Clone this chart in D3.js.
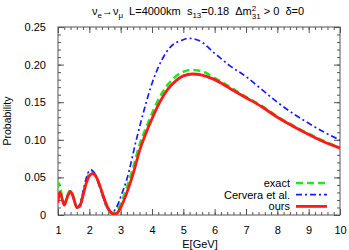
<!DOCTYPE html>
<html>
<head>
<meta charset="utf-8">
<script src="https://cdn.jsdelivr.net/npm/d3@7"></script>
<style>
  body { margin: 0; background: #fff; }
  svg { font-family: "Liberation Sans", Arial, sans-serif; }
</style>
</head>
<body>
<div id="chart"></div>
<script>
// data (E in GeV, probability)
var exactE = [1.0, 1.03, 1.1, 1.2, 1.3, 1.4, 1.5, 1.6, 1.7, 1.8, 1.9, 2.0, 2.1, 2.2, 2.3, 2.4, 2.5, 2.6, 2.7, 2.75, 2.9, 3.0, 3.2, 3.4, 3.6, 3.8, 4.0, 4.25, 4.5, 4.75, 5.0, 5.25, 5.6, 6.0, 6.5, 7.0, 7.5, 8.0, 8.5, 9.0, 9.5, 10];
var exactP = [0.036, 0.042, 0.030, 0.015, 0.026, 0.033, 0.024, 0.010, 0.013, 0.028, 0.045, 0.055, 0.057, 0.053, 0.043, 0.030, 0.017, 0.007, 0.003, 0.003, 0.008, 0.015, 0.037, 0.063, 0.093, 0.115, 0.135, 0.157, 0.173, 0.184, 0.1905, 0.193, 0.191, 0.182, 0.170, 0.157, 0.145, 0.131, 0.119, 0.108, 0.098, 0.0895];

var cerveraE = [1.0, 1.05, 1.1, 1.2, 1.3, 1.4, 1.5, 1.6, 1.7, 1.8, 1.9, 2.0, 2.05, 2.1, 2.2, 2.3, 2.4, 2.5, 2.6, 2.7, 2.8, 2.9, 3.0, 3.2, 3.5, 3.75, 4.0, 4.3, 4.6, 5.0, 5.15, 5.5, 6.0, 6.5, 7.0, 7.5, 8.0, 8.5, 9.0, 9.5, 10];
var cerveraP = [0.020, 0.031, 0.027, 0.013, 0.025, 0.032, 0.021, 0.010, 0.015, 0.031, 0.049, 0.059, 0.060, 0.059, 0.053, 0.041, 0.028, 0.016, 0.007, 0.004, 0.006, 0.013, 0.024, 0.048, 0.100, 0.140, 0.175, 0.205, 0.224, 0.233, 0.235, 0.232, 0.215, 0.198, 0.184, 0.167, 0.150, 0.135, 0.122, 0.110, 0.0997];

var oursE = [1.0, 1.05, 1.1, 1.2, 1.3, 1.4, 1.5, 1.6, 1.7, 1.8, 1.9, 2.0, 2.1, 2.2, 2.3, 2.4, 2.5, 2.6, 2.7, 2.8, 2.9, 3.0, 3.2, 3.4, 3.6, 3.8, 4.0, 4.25, 4.5, 4.75, 5.0, 5.3, 5.6, 6.0, 6.5, 7.0, 7.5, 8.0, 8.5, 9.0, 9.5, 10];
var oursP = [0.016, 0.030, 0.026, 0.013, 0.024, 0.031, 0.022, 0.010, 0.012, 0.026, 0.042, 0.052, 0.055, 0.052, 0.043, 0.031, 0.019, 0.009, 0.003, 0.001, 0.003, 0.010, 0.030, 0.055, 0.085, 0.108, 0.128, 0.150, 0.167, 0.178, 0.185, 0.1875, 0.186, 0.180, 0.168, 0.156, 0.144, 0.130, 0.118, 0.107, 0.097, 0.089];

var xTicks = [1, 2, 3, 4, 5, 6, 7, 8, 9, 10];
var yTicks = [0, 0.05, 0.10, 0.15, 0.20, 0.25];
var yTickLabels = ["0", "0.05", "0.10", "0.15", "0.20", "0.25"];
var seriesNames = ["exact", "Cervera et al.", "ours"];

var margin = { top: 27, right: 9, bottom: 35, left: 58 },
    width = 349 - margin.left - margin.right,
    height = 250 - margin.top - margin.bottom;

var x = d3.scaleLinear().domain([1, 10]).range([0, width]);
var y = d3.scaleLinear().domain([0, 0.25]).range([height, 0]);

var svg = d3.select("#chart").append("svg")
    .attr("width", 349)
    .attr("height", 250);

var g = svg.append("g")
    .attr("transform", "translate(" + margin.left + "," + margin.top + ")");

// title
var title = svg.append("text")
    .attr("x", 198).attr("y", 15)
    .attr("text-anchor", "middle")
    .style("font-size", "11px");
title.append("tspan").text("ν");
title.append("tspan").attr("dy", 3).style("font-size", "8px").text("e");
title.append("tspan").attr("dy", -3).text("→ν");
title.append("tspan").attr("dy", 3).style("font-size", "8px").text("μ");
title.append("tspan").attr("dy", -3).text("  L=4000km  s");
title.append("tspan").attr("dy", 3).style("font-size", "8px").text("13");
title.append("tspan").attr("dy", -3).text("=0.18  Δm");
title.append("tspan").attr("dy", -4).style("font-size", "8px").text("2");
title.append("tspan").attr("dx", -4.5).attr("dy", 8).style("font-size", "8px").text("31");
title.append("tspan").attr("dy", -4).text(" > 0  δ=0");
title.selectAll("tspan").attr("xml:space", "preserve").style("white-space", "pre");

// minor ticks
var xMinor = d3.range(1, 10.001, 0.2);
var yMinor = d3.range(0, 0.2501, 0.01);

function tickStyle(sel) {
    sel.select(".domain").remove();
    sel.selectAll("line").attr("stroke", "#555");
    sel.selectAll("text").attr("fill", "#000").style("font-size", "11px")
        .style("font-family", "'Liberation Sans', Arial, sans-serif");
}

g.append("g").attr("transform", "translate(0," + height + ")")
    .call(d3.axisBottom(x).tickValues(xMinor).tickSize(-3).tickFormat(""))
    .call(tickStyle);
g.append("g")
    .call(d3.axisTop(x).tickValues(xMinor).tickSize(-3).tickFormat(""))
    .call(tickStyle);
g.append("g")
    .call(d3.axisLeft(y).tickValues(yMinor).tickSize(-3).tickFormat(""))
    .call(tickStyle);
g.append("g").attr("transform", "translate(" + width + ",0)")
    .call(d3.axisRight(y).tickValues(yMinor).tickSize(-3).tickFormat(""))
    .call(tickStyle);

// major ticks
g.append("g").attr("transform", "translate(0," + height + ")")
    .call(d3.axisBottom(x).tickValues(xTicks).tickSize(-6).tickPadding(11).tickFormat(d3.format("d")))
    .call(tickStyle);
g.append("g")
    .call(d3.axisTop(x).tickValues(xTicks).tickSize(-6).tickFormat(""))
    .call(tickStyle);
g.append("g")
    .call(d3.axisLeft(y).tickValues(yTicks).tickSize(-6).tickPadding(12)
        .tickFormat(function (d, i) { return yTickLabels[i]; }))
    .call(tickStyle);
g.append("g").attr("transform", "translate(" + width + ",0)")
    .call(d3.axisRight(y).tickValues(yTicks).tickSize(-6).tickFormat(""))
    .call(tickStyle);

// frame
g.append("rect")
    .attr("width", width).attr("height", height)
    .attr("fill", "none").attr("stroke", "#555").attr("stroke-width", 1);

// axis labels
svg.append("text")
    .attr("transform", "translate(11," + (margin.top + height / 2) + ") rotate(-90)")
    .attr("text-anchor", "middle")
    .style("font-size", "10.5px")
    .text("Probability");
svg.append("text")
    .attr("x", margin.left + width / 2 + 1).attr("y", 248)
    .attr("text-anchor", "middle")
    .style("font-size", "11px")
    .text("E[GeV]");

// curves
g.append("clipPath").attr("id", "clip")
    .append("rect").attr("width", width).attr("height", height);

var line = d3.line()
    .x(function (d) { return x(d[0]); })
    .y(function (d) { return y(d[1]); })
    .curve(d3.curveMonotoneX);

var series = [
    { e: exactE, p: exactP, color: "#22e622", width: 2.6, dash: "7,4" },
    { e: cerveraE, p: cerveraP, color: "#1a1aff", width: 1.7, dash: "6,3,2,3" },
    { e: oursE, p: oursP, color: "#ff1a1a", width: 2.8, dash: null }
];

series.forEach(function (s) {
    g.append("path")
        .datum(d3.zip(s.e, s.p))
        .attr("clip-path", "url(#clip)")
        .attr("fill", "none")
        .attr("stroke", s.color)
        .attr("stroke-width", s.width)
        .attr("stroke-dasharray", s.dash)
        .attr("d", line);
});

// legend
var legend = svg.append("g");
series.forEach(function (s, i) {
    var ly = 183 + i * 11.7;
    legend.append("text")
        .attr("x", 290).attr("y", ly + 4)
        .attr("text-anchor", "end")
        .style("font-size", "11px")
        .text(seriesNames[i]);
    legend.append("line")
        .attr("x1", 296).attr("x2", 327)
        .attr("y1", ly).attr("y2", ly)
        .attr("stroke", s.color)
        .attr("stroke-width", s.width)
        .attr("stroke-dasharray", s.dash);
});
</script>
</body>
</html>
